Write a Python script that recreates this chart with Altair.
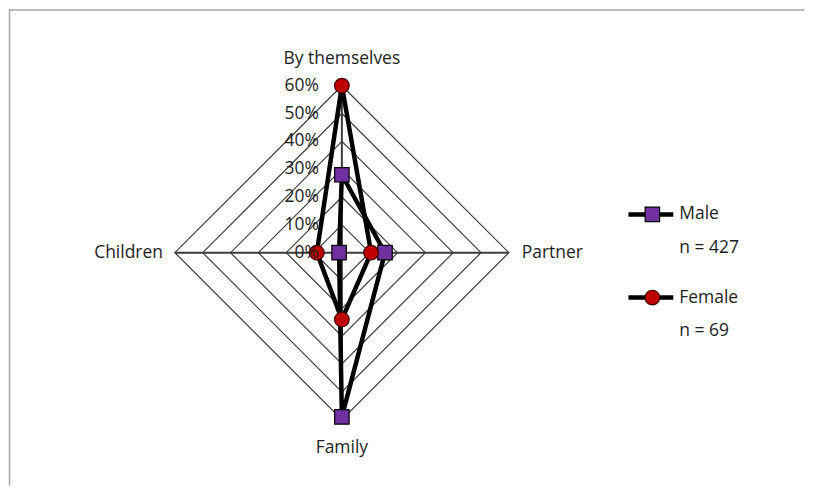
import math
import altair as alt
import pandas as pd

# ---- data ----
categories = ["By themselves", "Partner", "Family", "Children"]
male = [28, 15.5, 59, 1]
female = [60, 10.5, 24, 9]
levels = [10, 20, 30, 40, 50, 60]
tick_labels = ["0%", "10%", "20%", "30%", "40%", "50%", "60%"]
tick_values = [0, 10, 20, 30, 40, 50, 60]
legend_names = ["Male", "Female"]
legend_n = ["n = 427", "n = 69"]

# ---- layout ----
W, H = 797, 477
cx, cy = 333.7, 243.7          # centre in chart pixels
k = 167.4 / 60.0               # pixels per percent
xdom = [-cx / k, (W - cx) / k]
ydom = [-(H - cy) / k, cy / k]
FONT = "Open Sans"
FS = 17.5
TXT = "#1e1e1e"
GRID = "#3c3c3c"

angles = [i * 2 * math.pi / len(categories) for i in range(len(categories))]


def pos(r, a):
    return r * math.sin(a), r * math.cos(a)


# series polygons (closed)
rows = []
for name, vals in [("Male", male), ("Female", female)]:
    for i in range(len(categories) + 1):
        j = i % len(categories)
        x, y = pos(vals[j], angles[j])
        rows.append({"series": name, "order": i, "x": x, "y": y,
                     "cat": categories[j], "val": vals[j], "closing": i == len(categories)})
series_df = pd.DataFrame(rows)

# grid rings
grid_rows = []
for lv in levels:
    for i in range(len(categories) + 1):
        j = i % len(categories)
        x, y = pos(lv, angles[j])
        grid_rows.append({"level": lv, "order": i, "x": x, "y": y})
grid_df = pd.DataFrame(grid_rows)

# spokes
spoke_rows = []
for j, c in enumerate(categories):
    x, y = pos(levels[-1], angles[j])
    spoke_rows.append({"cat": c, "x": 0.0, "y": 0.0, "x2": x, "y2": y})
spoke_df = pd.DataFrame(spoke_rows)

# category labels
lab_rows = []
for j, c in enumerate(categories):
    x, y = pos(levels[-1], angles[j])
    lab_rows.append({"cat": c, "x": x, "y": y})
lab_df = pd.DataFrame(lab_rows)

tick_df = pd.DataFrame({"v": tick_values, "label": tick_labels, "x": [0.0] * len(tick_values)})

X = alt.X("x:Q", scale=alt.Scale(domain=xdom, nice=False, zero=False), axis=None)
Y = alt.Y("y:Q", scale=alt.Scale(domain=ydom, nice=False, zero=False), axis=None)

grid = alt.Chart(grid_df).mark_line(color=GRID, strokeWidth=1.2).encode(
    x=X, y=Y, detail="level:N", order="order:Q")

spokes = alt.Chart(spoke_df).mark_rule(color=GRID, strokeWidth=2).encode(
    x=X, y=Y, x2="x2:Q", y2="y2:Q")

lines = alt.Chart(series_df).mark_line(color="black", strokeWidth=4.5, strokeJoin="miter").encode(
    x=X, y=Y, detail="series:N", order="order:Q")

pts = series_df[~series_df["closing"]]
male_pts = alt.Chart(pts[pts["series"] == "Male"]).mark_point(
    shape="square", filled=True, size=210, fill="#7030A0", stroke="black", strokeWidth=1.2, opacity=1
).encode(x=X, y=Y)
female_pts = alt.Chart(pts[pts["series"] == "Female"]).mark_point(
    shape="circle", filled=True, size=215, fill="#C00000", stroke="#400000", strokeWidth=1.2, opacity=1
).encode(x=X, y=Y)

ticks = alt.Chart(tick_df).mark_text(
    align="right", baseline="middle", dx=-23, font=FONT, fontSize=FS, color=TXT
).encode(x=X, y=alt.Y("v:Q", scale=alt.Scale(domain=ydom, nice=False, zero=False), axis=None),
         text="label:N")


def cat_label(c, **kw):
    return alt.Chart(lab_df[lab_df["cat"] == c]).mark_text(
        font=FONT, fontSize=FS, color=TXT, **kw).encode(x=X, y=Y, text="cat:N")


labels = (cat_label("By themselves", align="center", baseline="middle", dy=-27)
          + cat_label("Partner", align="left", baseline="middle", dx=13)
          + cat_label("Family", align="center", baseline="middle", dy=28)
          + cat_label("Children", align="right", baseline="middle", dx=-12))

# ---- legend ----
leg_df = pd.DataFrame({"name": legend_names, "n": legend_n,
                       "ly": [205.3, 288.7], "ny": [239.0, 322.5]})
leg_base = alt.Chart(leg_df)
leg_line = leg_base.mark_rule(color="black", strokeWidth=4.5).encode(
    x=alt.value(621), x2=alt.value(666), y=alt.Y("ly:Q", scale=None))
leg_sq = alt.Chart(leg_df[leg_df["name"] == "Male"]).mark_point(
    shape="square", filled=True, size=210, fill="#7030A0", stroke="black", strokeWidth=1.2, opacity=1
).encode(x=alt.value(645), y=alt.Y("ly:Q", scale=None))
leg_ci = alt.Chart(leg_df[leg_df["name"] == "Female"]).mark_point(
    shape="circle", filled=True, size=215, fill="#C00000", stroke="#400000", strokeWidth=1.2, opacity=1
).encode(x=alt.value(645), y=alt.Y("ly:Q", scale=None))
leg_name = leg_base.mark_text(align="left", baseline="middle", font=FONT, fontSize=FS, color=TXT).encode(
    x=alt.value(672), y=alt.Y("ly:Q", scale=None), text="name:N")
leg_n = leg_base.mark_text(align="left", baseline="middle", font=FONT, fontSize=FS, color=TXT).encode(
    x=alt.value(672), y=alt.Y("ny:Q", scale=None), text="n:N")

# frame (top and left edges)
frame_df = pd.DataFrame({"a": [0]})
frame_top = alt.Chart(frame_df).mark_rule(color="#a6a6a6", strokeWidth=1.5).encode(
    x=alt.value(0), x2=alt.value(W), y=alt.value(0.5))
frame_left = alt.Chart(frame_df).mark_rule(color="#a6a6a6", strokeWidth=1.5).encode(
    x=alt.value(0.5), y=alt.value(0), y2=alt.value(H))

chart = alt.layer(
    frame_top, frame_left, grid, spokes, lines, male_pts, female_pts, ticks, labels,
    leg_line, leg_sq, leg_ci, leg_name, leg_n
).properties(width=W, height=H, padding=0).configure_view(stroke=None)

chart.save("out.html", embed_options={"renderer": "svg", "actions": False})
